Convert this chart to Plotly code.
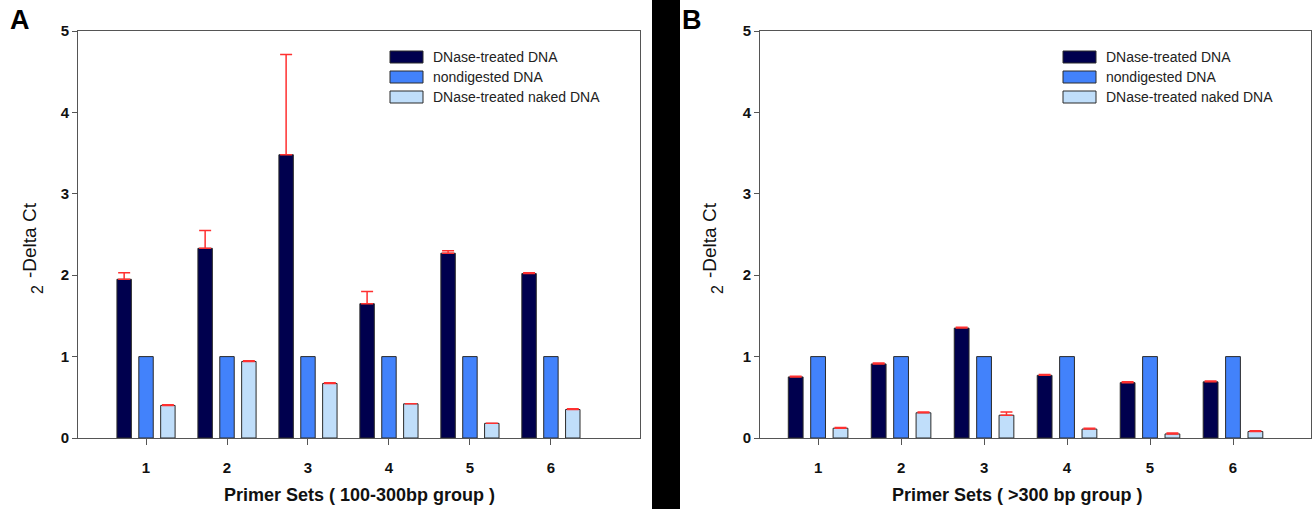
import plotly.graph_objects as go

# Primer sets on the x axis
primer_sets = [1, 2, 3, 4, 5, 6]
series_names = ["DNase-treated DNA", "nondigested DNA", "DNase-treated naked DNA"]
series_colors = ["#00004e", "#4282fb", "#c0defa"]

# Panel A: 100-300 bp group (mean values and upper error)
a_dnase = [1.95, 2.33, 3.48, 1.65, 2.27, 2.02]
a_dnase_err = [0.08, 0.22, 1.23, 0.15, 0.03, 0.01]
a_nondig = [1.0, 1.0, 1.0, 1.0, 1.0, 1.0]
a_naked = [0.40, 0.94, 0.67, 0.42, 0.18, 0.35]
a_naked_err = [0.01, 0.01, 0.01, 0.0, 0.0, 0.01]

# Panel B: >300 bp group
b_dnase = [0.75, 0.91, 1.35, 0.77, 0.68, 0.69]
b_dnase_err = [0.01, 0.01, 0.01, 0.01, 0.01, 0.01]
b_nondig = [1.0, 1.0, 1.0, 1.0, 1.0, 1.0]
b_naked = [0.12, 0.31, 0.28, 0.11, 0.05, 0.08]
b_naked_err = [0.01, 0.01, 0.04, 0.01, 0.01, 0.01]

y_ticks = [0, 1, 2, 3, 4, 5]
x_titles = ["Primer Sets ( 100-300bp group )", "Primer Sets ( >300 bp group )"]
panel_letters = ["A", "B"]
y_title_base = "2"
y_title_exp = "-Delta Ct"

W, H = 1313, 509
FONT = "Liberation Sans, Arial, sans-serif"


def px(x):
    return x / W


def py(y):
    return 1 - y / H


fig = go.Figure()


def add_panel(xa, ya, vals, errs):
    for name, color, v, e in zip(series_names, series_colors, vals, errs):
        err = None
        if e is not None:
            err = dict(type="data", symmetric=False, array=e,
                       arrayminus=[0] * len(e), color="#ff3030",
                       thickness=1.5, width=6)
        fig.add_trace(go.Bar(
            x=primer_sets, y=v, name=name, xaxis=xa, yaxis=ya,
            marker=dict(color=color, line=dict(color="#2a2a2a", width=1)),
            error_y=err, showlegend=False,
        ))


add_panel("x", "y", [a_dnase, a_nondig, a_naked], [a_dnase_err, None, a_naked_err])
add_panel("x2", "y2", [b_dnase, b_nondig, b_naked], [b_dnase_err, None, b_naked_err])

y_bottom, y_top = 438, 31
axis_common = dict(showline=True, linecolor="#555555", linewidth=1, mirror=True,
                   showgrid=False, zeroline=False, ticks="outside",
                   tickcolor="#555555", automargin=False,
                   tickfont=dict(family=FONT, size=15, color="#111111", weight="bold"))

fig.update_layout(
    width=W, height=H,
    margin=dict(l=0, r=0, t=0, b=0, pad=0, autoexpand=False),
    paper_bgcolor="white", plot_bgcolor="white",
    showlegend=False,
    barmode="group", bargap=0.19, bargroupgap=0.34,
    xaxis=dict(domain=[px(78), px(640)], range=[0.16, 7.1], tickvals=primer_sets,
               ticklen=6, ticklabelstandoff=10, anchor="y", **axis_common),
    yaxis=dict(domain=[py(y_bottom), py(y_top)], range=[0, 5], tickvals=y_ticks,
               ticklen=5, anchor="x", **axis_common),
    xaxis2=dict(domain=[px(760), px(1311)], range=[0.30, 6.94], tickvals=primer_sets,
                ticklen=6, ticklabelstandoff=10, anchor="y2", **axis_common),
    yaxis2=dict(domain=[py(y_bottom), py(y_top)], range=[0, 5], tickvals=y_ticks,
                ticklen=5, anchor="x2", **axis_common),
)

# separator band between the two panels
fig.add_shape(type="rect", xref="paper", yref="paper",
              x0=px(652), x1=px(680), y0=0, y1=1,
              fillcolor="black", line=dict(width=0), layer="above")

annotations = []


def label(text, x, y, size, bold=False, angle=0, xanchor="center", color="#111111"):
    annotations.append(dict(
        text=text, x=px(x), y=py(y), xref="paper", yref="paper",
        xanchor=xanchor, yanchor="middle", showarrow=False, textangle=angle,
        font=dict(family=FONT, size=size, color=color,
                  weight="bold" if bold else "normal")))


# panel letters
for letter, x in zip(panel_letters, [20, 692]):
    label(letter, x, 20, 27, bold=True, color="black")
# axis titles
for title, cx in zip(x_titles, [359, 1017]):
    label(title, cx, 495, 18, bold=True)
for off in [0, 680]:
    label(y_title_exp, 29 + off, 240, 19, angle=-90)
    label(y_title_base, 37 + off, 290, 16, angle=-90)

# legends drawn as swatches with labels
for sx in [390, 1063]:
    for i, (name, color) in enumerate(zip(series_names, series_colors)):
        yc = 57 + 20 * i
        fig.add_shape(type="rect", xref="paper", yref="paper",
                      x0=px(sx), x1=px(sx + 33), y0=py(yc + 6), y1=py(yc - 6),
                      fillcolor=color, line=dict(color="#2a2a2a", width=1))
        label(name, sx + 41, yc, 14, xanchor="left", color="#222222")

fig.update_layout(annotations=annotations)

fig.write_html(
    "out.html",
    post_script="document.body.style.margin='0';document.body.style.overflow='hidden';",
)
